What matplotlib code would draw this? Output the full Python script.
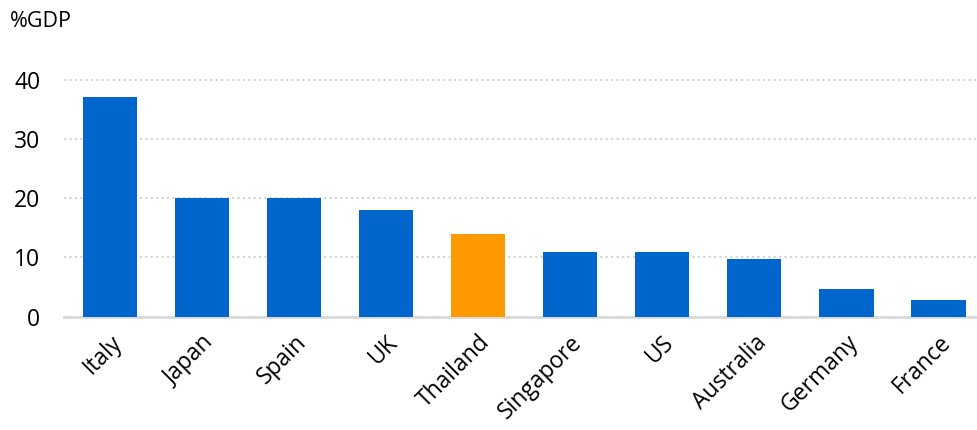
import matplotlib.pyplot as plt

countries = ['Italy', 'Japan', 'Spain', 'UK', 'Thailand', 'Singapore',
             'US', 'Australia', 'Germany', 'France']
values = [37.0, 20.0, 20.0, 18.0, 14.0, 11.0, 11.0, 9.7, 4.7, 2.9]
highlight = 'Thailand'

plt.rcParams['font.family'] = ['Open Sans', 'DejaVu Sans']

fig = plt.figure(figsize=(9.78, 4.3), dpi=100)
ax = fig.add_axes([0.0654, 0.2635, 0.9346, 0.62])

colors = ['#FF9900' if c == highlight else '#0066CC' for c in countries]
x = range(len(countries))
ax.bar(x, values, width=0.59, color=colors, zorder=3)

ax.set_xlim(-0.5, 9.43)
ax.set_ylim(0, 45)
ax.set_yticks([0, 10, 20, 30, 40])
ax.set_xticks(list(x))
ax.set_xticklabels(countries, rotation=45, ha='right', rotation_mode='anchor',
                   fontsize=16.5)
ax.tick_params(axis='y', labelsize=16.5, length=0, pad=17)
ax.tick_params(axis='x', length=0, pad=10)

ax.yaxis.grid(True, linestyle=(0, (1.2, 1.8)), color='#d0d0d0', linewidth=1.3, zorder=0)
for s in ['top', 'right', 'left']:
    ax.spines[s].set_visible(False)
ax.spines['bottom'].set_color('#d9d9d9')
ax.spines['bottom'].set_linewidth(2)

fig.text(0.01, 0.925, '%GDP', fontsize=15.5, va='bottom', ha='left')

fig.savefig('out.png', dpi=100)
